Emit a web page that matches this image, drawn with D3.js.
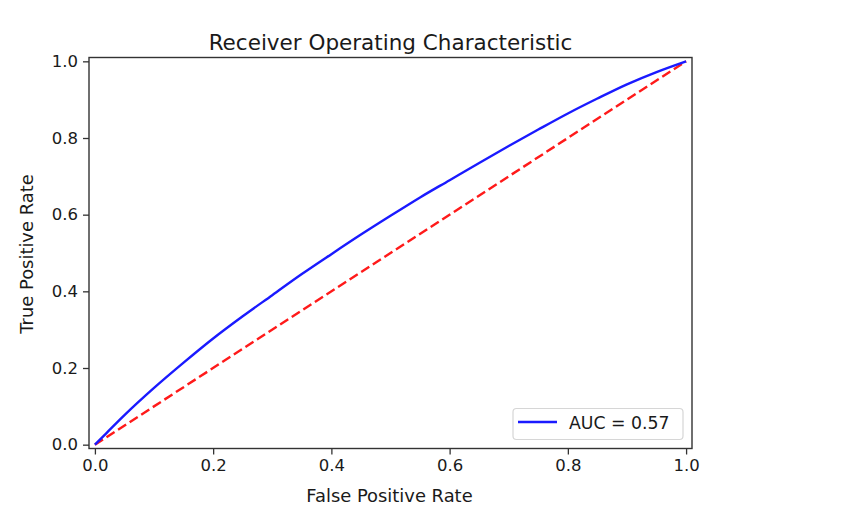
<!DOCTYPE html>
<html>
<head>
<meta charset="utf-8">
<script src="https://cdn.jsdelivr.net/npm/d3@7"></script>
<style>
  html, body { margin: 0; padding: 0; background: #fff; }
  text { font-family: "DejaVu Sans", sans-serif; fill: #1a1a1a; }
</style>
</head>
<body>
<svg id="chart" width="846" height="516"></svg>
<script>
// ---- data ----
const fpr = [0, 0.02, 0.05, 0.1, 0.15, 0.2, 0.25, 0.3, 0.35, 0.4, 0.45, 0.5, 0.55, 0.6, 0.65, 0.7, 0.75, 0.8, 0.85, 0.9, 0.95, 1.0];
const tpr = [0, 0.031, 0.077, 0.148, 0.214, 0.277, 0.335, 0.39, 0.445, 0.497, 0.548, 0.597, 0.645, 0.69, 0.735, 0.779, 0.822, 0.864, 0.903, 0.94, 0.972, 1.0];
const diagX = [0, 1];
const diagY = [0, 1];
const xTicks = [0, 0.2, 0.4, 0.6, 0.8, 1.0];
const yTicks = [0, 0.2, 0.4, 0.6, 0.8, 1.0];
const titleText = "Receiver Operating Characteristic";
const xLabel = "False Positive Rate";
const yLabel = "True Positive Rate";
const legendLabel = "AUC = 0.57";

// ---- layout ----
const svg = d3.select("#chart");
const pL = 89, pR = 692, pT = 57.5, pB = 448.5;
const x = d3.scaleLinear().domain([-0.01, 1.01]).range([pL, pR]);
const y = d3.scaleLinear().domain([-0.01, 1.01]).range([pB, pT]);

const fs = 16.5;

// lines
const straight = d3.line().x(d => x(d[0])).y(d => y(d[1]));
const smooth = d3.line().x(d => x(d[0])).y(d => y(d[1])).curve(d3.curveMonotoneX);
svg.append("path")
  .datum(d3.zip(diagX, diagY))
  .attr("d", straight)
  .attr("fill", "none")
  .attr("stroke", "#ff1a1a")
  .attr("stroke-width", 2.4)
  .attr("stroke-dasharray", "9.6,4.2");
svg.append("path")
  .datum(d3.zip(fpr, tpr))
  .attr("d", smooth)
  .attr("fill", "none")
  .attr("stroke", "#1a1aff")
  .attr("stroke-width", 2.4)
  .attr("stroke-linejoin", "round");

// axes
const xAxis = svg.append("g").attr("transform", `translate(0,${pB})`)
  .call(d3.axisBottom(x).tickValues(xTicks).tickFormat(d3.format(".1f")).tickSize(6).tickPadding(5));
const yAxis = svg.append("g").attr("transform", `translate(${pL},0)`)
  .call(d3.axisLeft(y).tickValues(yTicks).tickFormat(d3.format(".1f")).tickSize(6).tickPadding(5));
[xAxis, yAxis].forEach(g => {
  g.select(".domain").remove();
  g.selectAll(".tick line").attr("stroke", "#333").attr("stroke-width", 1.3);
  g.selectAll(".tick text").attr("font-size", fs).attr("font-family", "DejaVu Sans").attr("fill", "#1a1a1a");
});

// frame
svg.append("rect")
  .attr("x", pL).attr("y", pT)
  .attr("width", pR - pL).attr("height", pB - pT)
  .attr("fill", "none").attr("stroke", "#333").attr("stroke-width", 1.4);

// title & labels
svg.append("text").attr("x", (pL + pR) / 2).attr("y", 49.5)
  .attr("text-anchor", "middle").attr("font-size", 21.5).text(titleText);
svg.append("text").attr("x", (pL + pR) / 2 - 1).attr("y", 501.5)
  .attr("text-anchor", "middle").attr("font-size", 17.9).text(xLabel);
svg.append("text").attr("transform", `translate(33,${(pT + pB) / 2 + 1}) rotate(-90)`)
  .attr("text-anchor", "middle").attr("font-size", 17.9).text(yLabel);

// legend
const lg = svg.append("g");
lg.append("rect").attr("x", 513).attr("y", 408.5).attr("width", 170).attr("height", 31)
  .attr("rx", 3.5).attr("fill", "#fff").attr("fill-opacity", 0.8)
  .attr("stroke", "#d6d6d6").attr("stroke-width", 1.2);
lg.append("line").attr("x1", 518).attr("x2", 557).attr("y1", 422).attr("y2", 422)
  .attr("stroke", "#1a1aff").attr("stroke-width", 2.4);
lg.append("text").attr("x", 569).attr("y", 428.5).attr("font-size", 17.3).text(legendLabel);
</script>
</body>
</html>
